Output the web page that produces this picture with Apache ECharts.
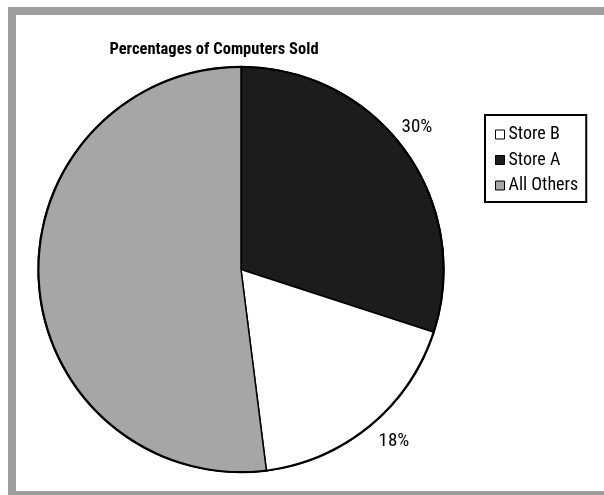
<!DOCTYPE html>
<html>
<head>
<meta charset="utf-8">
<style>
  html, body { margin: 0; padding: 0; background: #fff; }
  #frame { position: absolute; left: 8px; top: 7px; width: 620px; height: 476px;
           border: 8px solid #9e9e9e; border-right: none; box-sizing: content-box; }
  #chart { position: absolute; left: 0; top: 0; width: 604px; height: 495px; }
</style>
<script src="https://cdn.jsdelivr.net/npm/echarts@6/dist/echarts.min.js"></script>
</head>
<body>
<div id="frame"></div>
<div id="chart"></div>
<script>
const titleText = 'Percentages of Computers Sold';
const categories = ['Store A', 'Store B', 'All Others'];
const values = [30, 18, 52];
const legendOrder = ['Store B', 'Store A', 'All Others'];
const sliceColors = ['#1c1c1c', '#ffffff', '#a6a6a6'];
const labelSpots = [[417, 127], [394, 441], [74, 115]];

const FONT = "'Roboto Condensed', 'Liberation Sans Narrow', sans-serif";
const chart = echarts.init(document.getElementById('chart'), null, { renderer: 'canvas' });
chart.setOption({
  animation: false,
  title: {
    text: titleText, left: 209, top: 36, textAlign: 'center',
    textStyle: { fontFamily: FONT, fontSize: 16.5, fontWeight: 'bold', color: '#000', lineHeight: 17 }
  },
  legend: {
    data: legendOrder, orient: 'vertical', left: 485, top: 115,
    padding: [10.5, 8, 7.5, 10], itemGap: 7.5,
    borderColor: '#000', borderWidth: 2, backgroundColor: '#fff',
    icon: 'rect', itemWidth: 9, itemHeight: 9,
    itemStyle: { borderColor: '#000', borderWidth: 1 },
    textStyle: { fontFamily: FONT, fontSize: 18, lineHeight: 18, color: '#000', padding: [0, 0, 0, -1] }
  },
  series: [{
    type: 'pie', center: [241, 269.5], radius: 203, startAngle: 90, clockwise: true,
    data: categories.map((c, i) => ({ name: c, value: values[i], itemStyle: { color: sliceColors[i] } })),
    itemStyle: { borderColor: '#000', borderWidth: 1.5 },
    label: { show: true, position: 'outside', formatter: p => p.value + '%',
             fontFamily: FONT, fontSize: 19, color: '#000' },
    labelLine: { show: false },
    labelLayout: p => ({ x: labelSpots[p.dataIndex][0], y: labelSpots[p.dataIndex][1], align: 'center', verticalAlign: 'middle' }),
    emphasis: { disabled: true }
  }, {
    type: 'pie', center: [241, 269.5], radius: [201.5, 203.5], silent: true,
    data: [{ value: 1, itemStyle: { color: '#000' } }],
    label: { show: false }, labelLine: { show: false }, legendHoverLink: false
  }]
});
</script>
</body>
</html>
